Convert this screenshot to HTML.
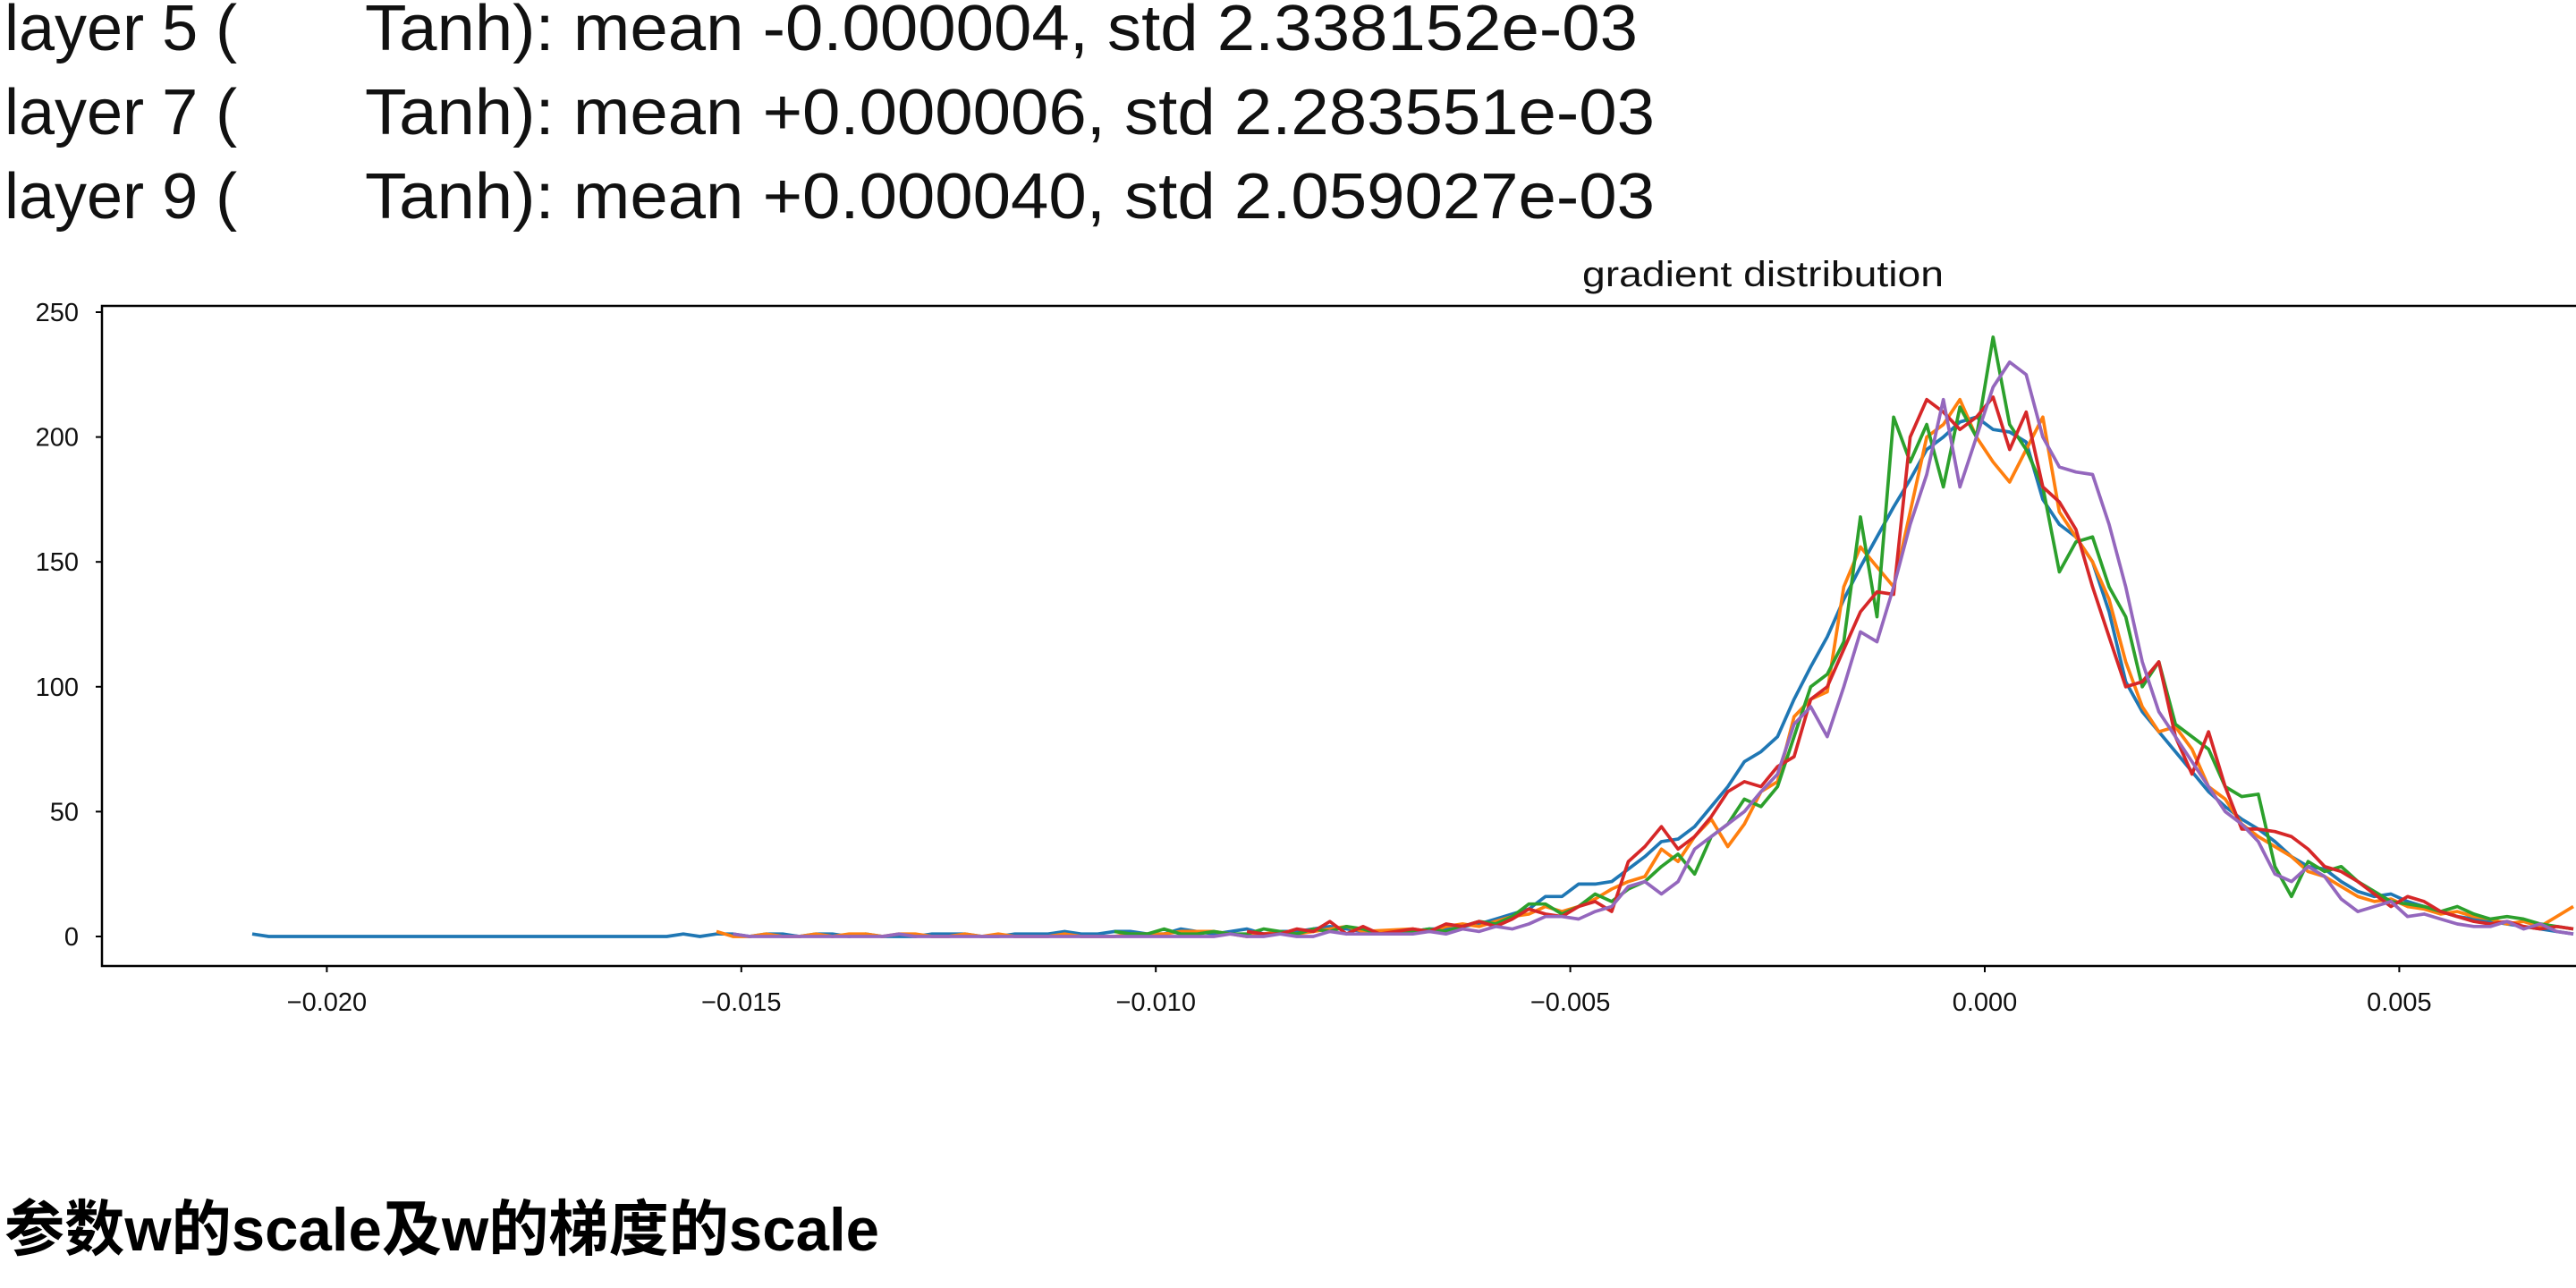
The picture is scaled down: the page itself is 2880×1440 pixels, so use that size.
<!DOCTYPE html>
<html><head><meta charset="utf-8">
<style>
html,body{margin:0;padding:0;background:#fff;}
svg{display:block;}
text{font-family:"Liberation Sans","Noto Sans CJK SC",sans-serif;}
</style></head>
<body>
<svg id="chart" width="2880" height="1440" viewBox="0 0 2880 1440" xmlns="http://www.w3.org/2000/svg">
  <g font-size="72" fill="#111">
    <text x="5" y="56">layer 5 (</text>
    <text x="408" y="56" textLength="1423" lengthAdjust="spacingAndGlyphs">Tanh): mean -0.000004, std 2.338152e-03</text>
    <text x="5" y="150">layer 7 (</text>
    <text x="408" y="150" textLength="1442" lengthAdjust="spacingAndGlyphs">Tanh): mean +0.000006, std 2.283551e-03</text>
    <text x="5" y="244">layer 9 (</text>
    <text x="408" y="244" textLength="1442" lengthAdjust="spacingAndGlyphs">Tanh): mean +0.000040, std 2.059027e-03</text>
  </g>
  <text x="1769" y="320" font-size="40" fill="#111" textLength="404" lengthAdjust="spacingAndGlyphs">gradient distribution</text>
  <g id="plot"></g>
  <text x="5" y="1398" font-size="68" font-weight="bold" fill="#000" style='font-family:"Liberation Sans","Noto Sans CJK SC",sans-serif' textLength="978" lengthAdjust="spacingAndGlyphs">参数w的scale及w的梯度的scale</text>
</svg>
<script>
const yTicks=[0,50,100,150,200,250];
const xTicks=[-0.020,-0.015,-0.010,-0.005,0.000,0.005];
const xTickLabels=["\u22120.020","\u22120.015","\u22120.010","\u22120.005","0.000","0.005"];
const seriesNames=["blue","orange","green","red","purple"];
const seriesColors=["#1f77b4","#ff7f0e","#2ca02c","#d62728","#9467bd"];
const binStep=0.0002;
const coreStart=-0.0069;
const tailStarts=[-0.0209,-0.0153,-0.0105,-0.0089,-0.0151];
const blueTail=[1,0,0,0,0,0,0,0,0,0,0,0,0,0,0,0,0,0,0,0,0,0,0,0,0,0,1,0,1,1,0,1,1,0,1,1,0,1,0,0,0,1,1,1,0,0,1,1,1,2,1,1,2,2,1,1,3,2,1,2,3,1,2,2,3,4,3,2];
const orangeTail=[2,0,0,1,0,0,1,0,1,1,0,1,1,0,0,1,0,1,0,0,0,1,0,0,0,1,1,1,2,2,2,1,0,1,2,1,2,3,4,2];
const greenTail=[2,1,1,3,1,1,2,1,1,3,2,1,3,2,4,3,1];
const redTail=[2,1,1,3,2,6,1,4,1];
const purpleTail=[1,0,0,0,0,0,0,0,0,0,1,0,0,0,0,0,0,0,0,0,0,0,0,0,0,0,0,0,0,0,1,0,0,1,0,0,2,1,1,1];
const blueCore=[2,3,3,4,5,7,9,11,16,16,21,21,22,27,32,38,39,44,52,60,70,74,80,95,108,120,135,148,160,172,183,195,200,206,208,203,202,198,175,165,160,150,130,102,90,82,74,66,58,52,47,43,38,32,28,27,22,18,16,17,14,12,10,8,7,6,5,4,3,2,1];
const orangeCore=[3,2,4,5,4,6,8,9,12,10,12,15,19,22,24,35,30,40,47,36,45,58,62,88,95,98,140,156,148,140,170,200,205,215,200,190,182,195,208,170,160,150,135,110,92,82,84,75,60,55,45,40,36,32,26,24,20,16,14,15,12,11,9,10,8,7,5,6,4,8,12];
const greenCore=[2,3,2,4,6,5,8,13,13,9,12,17,14,19,22,28,33,25,40,45,55,52,60,80,100,105,118,168,128,208,190,205,180,212,200,240,205,195,180,146,158,160,140,128,100,110,85,80,75,60,56,57,28,16,30,26,28,22,18,14,13,12,10,12,9,7,8,7,5,4,3];
const redCore=[3,2,5,4,6,4,7,11,9,8,12,14,10,30,36,44,35,40,48,58,62,60,68,72,95,100,115,130,138,137,200,215,210,203,208,216,195,210,180,174,163,140,120,100,102,110,80,65,82,60,43,43,42,40,35,28,26,22,17,12,16,14,10,8,6,5,6,4,3,4,3];
const purpleCore=[1,2,1,3,2,4,3,5,8,8,7,10,12,20,22,17,22,35,40,45,50,58,65,85,92,80,100,122,118,140,165,185,215,180,200,220,230,225,200,188,186,185,165,140,110,90,80,70,60,50,45,38,25,22,28,24,15,10,12,14,8,9,7,5,4,4,6,3,5,2,1];
const tails=[blueTail,orangeTail,greenTail,redTail,purpleTail];
const cores=[blueCore,orangeCore,greenCore,redCore,purpleCore];

const NS="http://www.w3.org/2000/svg";
const plot=document.getElementById('plot');
const L=114,T=342,B=1080,R=2900;
function xs(v){return 2219+(v/0.005)*463.4;}
function ys(v){return 1047-(v/50)*139.6;}
function mk(tag,attrs){const e=document.createElementNS(NS,tag);for(const k in attrs)e.setAttribute(k,attrs[k]);plot.appendChild(e);return e;}

for(let s=0;s<seriesNames.length;s++){
  const pts=[];
  tails[s].forEach((v,i)=>pts.push(xs(tailStarts[s]+i*binStep).toFixed(1)+','+ys(v).toFixed(1)));
  cores[s].forEach((v,i)=>pts.push(xs(coreStart+i*binStep).toFixed(1)+','+ys(v).toFixed(1)));
  const pl=mk('polyline',{points:pts.join(' '),fill:'none',stroke:seriesColors[s],'stroke-width':3.7,'stroke-linejoin':'round'});
  
  
}
const fr=mk('rect',{x:L,y:T,width:R-L,height:B-T,fill:'none',stroke:'#000','stroke-width':2.5});


yTicks.forEach(v=>{
  const y=ys(v);
  const t=mk('line',{x1:L-7,x2:L,y1:y,y2:y,stroke:'#000','stroke-width':2});
  
  
  const tx=mk('text',{x:88,y:y+10,'font-size':29,'text-anchor':'end',fill:'#111'});
  tx.textContent=String(v);
  
  
});
xTicks.forEach((v,i)=>{
  const x=xs(v);
  const t=mk('line',{x1:x,x2:x,y1:B,y2:B+7,stroke:'#000','stroke-width':2});
  
  
  const tx=mk('text',{x:x,y:1130,'font-size':29,'text-anchor':'middle',fill:'#111'});
  tx.textContent=xTickLabels[i];
  
  
});
</script>
</body></html>
